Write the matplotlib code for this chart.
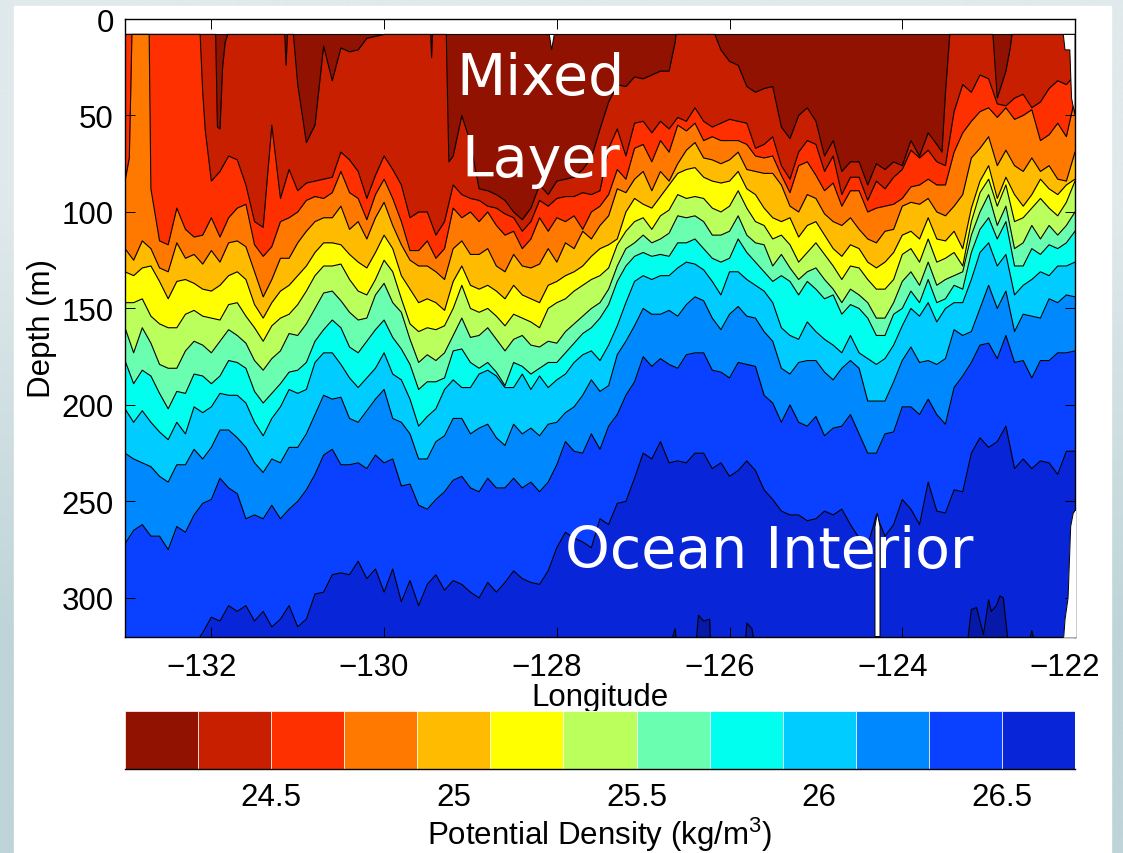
#!/usr/bin/env python3
"""Potential density section: depth of each isopycnal against longitude."""

import matplotlib
matplotlib.use("Agg")
import matplotlib.pyplot as plt
from matplotlib.transforms import ScaledTranslation
import numpy as np

LON = np.round(np.arange(111) * 0.1 - 133.0, 1)
TOP = 8
BOTTOM = 320

# depth (m) of each isopycnal at each LON
ISO_243 = [8,8,8,8,8,8,8,8,8,8,8,57,8,8,8,8,8,8,8,8,34,64,55,14,32,15,17,16,10,9,8,8,8,8,8,8,8,8,71,50,64,88,89,91,94,100,104,98,86,91,84,83,82,78,72,
           57,43,34,35,30,31,29,27,27,8,8,8,8,8,16,22,24,35,38,36,35,56,62,50,46,53,71,63,79,74,74,86,75,78,74,76,63,71,59,65,38,8,8,8,8,8,41,27,8,8,8,8,8,8,8,8]
ISO_245 = [8,8,8,8,8,8,8,8,8,38,84,79,71,73,86,105,108,55,93,78,89,85,84,83,82,69,73,79,93,81,71,78,86,103,100,100,112,105,86,91,93,94,97,98,101,103,110,105,94,97,93,92,92,90,91,
           89,67,57,71,54,53,59,53,57,51,53,46,53,56,54,52,53,54,67,65,61,76,83,69,63,65,79,71,91,82,82,94,84,88,82,78,68,72,68,74,76,48,34,38,29,31,44,45,41,39,46,43,36,32,34,29]
ISO_247 = [84,8,8,88,115,117,98,109,113,112,103,113,103,98,96,117,123,118,105,103,100,94,92,93,90,79,90,93,104,91,83,93,105,120,120,115,124,119,98,103,100,105,100,107,112,110,119,114,103,110,103,105,102,109,100,
           97,91,78,83,67,65,74,63,69,55,58,54,63,61,63,63,63,65,71,72,71,81,90,76,74,81,89,85,97,89,89,100,98,97,96,93,87,86,83,86,86,69,59,53,48,46,51,46,52,50,47,63,60,54,61,41]
ISO_249 = [119,125,115,119,129,131,116,124,122,127,120,126,116,115,118,131,144,135,124,124,116,110,105,103,103,97,109,105,114,103,95,107,117,125,128,128,131,135,119,115,122,122,119,128,131,122,128,129,127,119,126,116,119,110,114,
           107,102,88,90,83,79,89,79,84,75,68,64,72,73,75,73,69,78,79,80,80,86,97,100,91,93,101,105,107,103,109,114,116,110,109,97,95,96,93,100,102,97,91,72,67,61,76,68,76,79,72,79,76,83,84,69]
ISO_251 = [131,133,129,128,136,145,136,135,137,140,141,138,133,131,135,148,155,147,141,138,133,128,121,116,116,117,122,126,129,121,112,119,133,140,147,145,147,151,136,128,138,140,138,141,145,138,143,145,147,138,136,133,131,128,123,
           119,117,114,100,93,96,98,92,86,80,78,77,82,84,85,84,79,88,91,98,103,105,103,113,107,105,112,119,123,117,119,126,129,126,121,112,110,114,103,114,115,110,119,98,84,76,93,82,91,97,91,83,88,91,86,83]
ISO_253 = [147,147,145,154,158,160,160,153,151,154,155,156,148,147,154,160,167,159,155,153,148,141,133,128,128,127,135,141,143,135,125,131,145,158,162,160,161,159,150,138,150,152,150,154,159,153,155,157,160,150,147,145,141,138,135,
           133,129,117,110,105,103,109,102,99,91,93,92,93,98,100,97,89,98,105,107,114,112,117,126,121,116,122,128,135,128,129,135,140,140,135,122,119,126,114,126,124,121,128,105,90,83,97,86,105,103,98,93,98,102,95,84]
ISO_255 = [160,173,160,168,179,181,181,172,167,169,173,167,161,164,168,177,182,176,172,163,164,158,150,142,141,146,152,156,155,143,137,147,152,166,178,174,177,173,164,155,165,164,160,166,172,166,164,169,170,167,168,162,158,154,150,
           147,140,128,119,116,112,116,114,111,102,103,102,105,112,112,110,102,112,116,117,128,122,129,135,131,129,135,140,147,140,143,147,155,155,147,136,131,138,126,138,135,133,131,112,100,91,107,97,119,116,107,114,107,112,107,100]
ISO_257 = [177,189,182,185,194,202,193,194,184,185,189,185,177,178,181,193,199,194,189,183,182,178,167,161,156,160,170,173,167,161,156,165,171,179,192,188,188,186,172,171,178,181,178,183,190,178,180,184,181,178,178,173,168,163,160,
           155,148,136,128,123,121,123,122,123,116,116,114,119,124,126,124,114,121,126,131,136,133,136,143,136,140,145,143,153,148,150,155,164,164,153,150,141,147,135,147,145,138,140,121,109,103,114,105,128,128,119,122,117,119,116,110]
ISO_259 = [202,209,203,209,214,218,209,215,201,204,201,194,195,195,199,209,216,207,201,192,194,192,178,173,173,179,186,191,186,181,173,184,187,197,211,206,202,192,187,191,191,184,182,185,191,191,184,192,185,191,187,184,178,174,172,
           177,169,159,147,136,133,135,133,133,129,126,127,130,136,143,131,131,135,138,141,147,160,164,166,157,162,166,169,173,164,173,176,179,176,169,159,150,154,147,157,150,147,147,135,121,116,128,122,143,138,135,131,133,128,128,126]
ISO_261 = [225,228,230,232,237,240,231,231,223,228,222,213,213,217,222,230,235,228,230,222,222,215,205,195,197,196,207,209,203,197,192,207,209,215,228,228,219,216,207,207,215,212,210,217,221,210,215,212,216,210,209,204,201,195,187,
           193,190,174,167,159,150,153,153,151,154,148,144,146,155,161,153,149,154,155,162,167,181,184,178,177,177,183,187,181,177,181,198,198,198,188,177,170,178,177,179,176,161,164,162,150,138,150,141,162,153,154,155,145,147,143,144]
ISO_263 = [272,265,262,268,268,275,263,266,257,251,249,238,243,246,259,257,259,252,259,254,250,244,236,226,223,231,231,230,233,226,230,228,242,241,252,254,249,245,239,237,243,245,238,243,243,238,243,240,245,240,231,219,224,225,215,
           223,211,205,195,188,175,180,176,179,181,174,173,173,182,183,186,178,179,180,195,199,209,200,209,211,206,216,212,211,205,215,225,225,215,214,201,201,205,197,205,210,191,185,178,169,168,176,164,178,177,186,177,177,173,173,172]
ISO_265 = [325,325,325,325,325,325,325,325,325,318,310,312,304,307,304,312,307,315,311,304,315,311,298,297,288,287,288,281,290,285,297,285,302,291,304,293,288,296,291,293,297,300,292,297,292,286,290,292,293,286,274,266,269,271,274,
           259,262,251,250,238,225,228,219,230,229,230,225,225,233,230,237,234,229,234,244,249,255,257,257,260,259,255,257,254,262,269,273,257,268,262,249,254,262,240,255,256,244,245,225,217,222,219,211,233,228,233,229,230,236,224,224]
ISOPYCNALS = [ISO_243, ISO_245, ISO_247, ISO_249, ISO_251, ISO_253, ISO_255, ISO_257, ISO_259, ISO_261, ISO_263, ISO_265]

# extra readings between grid columns, where the shallow isopycnals drop steeply
STEEP_243_LON = [-131.95,-131.93,-131.87,-131.84,-131.81,-131.15,-131.135,-131.12,-131.05,-129.46,-129.45,-129.44,-129.28,-129.25,
                 -126.63,-126.62,-126.17,-123.54,-123.45,-122.95,-122.75,-122.73]
STEEP_243_DEPTH = [8,56,25,12,8,8,24,8,8,8,20,8,8,74,12,8,8,69,8,8,15,8]
STEEP_245_LON = [-132.13,-132.07]
STEEP_245_DEPTH = [8,58]
STEEP_247_LON = [-132.95,-132.93,-132.92,-132.72]
STEEP_247_DEPTH = [72,30,8,8]
STEEP = {0: (STEEP_243_LON, STEEP_243_DEPTH), 1: (STEEP_245_LON, STEEP_245_DEPTH), 2: (STEEP_247_LON, STEEP_247_DEPTH)}

# densest water, small patches on the bottom edge
DEEP_LON = [-126.69,-126.63,-126.61,-126.39,-126.36,-126.30,-126.23,-126.22,-125.82,-125.80,-125.74,-125.71,
            -123.25,-123.20,-123.14,-123.06,-123.00,-122.97,-122.91,-122.87,-122.83,-122.77,-122.54,-122.50,-122.46]
DEEP_DEPTH = [325,316,325,325,309,312,311,325,325,313,316,325,
              325,306,305,319,301,307,304,299,300,325,325,317,325]

# casts that stop early leave white gaps
SLIT_LON = [-124.316,-124.316,-124.289,-124.258,-124.258]
SLIT_DEPTH = [320,263,256,263,320]
EDGE_LON = [-122.13,-122.115,-122.08,-122.05,-122.02,-122.0]
EDGE_DEPTH = [320,311,300,263,256,255]
CORNER_LON = [-122.135,-122.116,-122.06,-122.04,-122.0,-122.0]
CORNER_DEPTH = [8,16,16,41,50,8]
NOTCH_LON = [-128.087,-128.06,-128.03]
NOTCH_DEPTH = [8,16,8]

LEVELS = np.round(np.arange(14) * 0.2 + 24.1, 1)
COLORS = ["#911200", "#c81f00", "#ff3000", "#ff7800", "#ffbb00", "#ffff00", "#baff5c",
          "#6affb0", "#00ffee", "#00ccff", "#0088ff", "#0a40ff", "#0825d8"]
DEEP_COLOR = "#0619a8"
LON_TICKS = [-132, -130, -128, -126, -124, -122]
DEPTH_TICKS = [0, 50, 100, 150, 200, 250, 300]
DENSITY_TICKS = [24.5, 25, 25.5, 26, 26.5]
DENSITY_LABELS = ["24.5", "25", "25.5", "26", "26.5"]


def with_steep(index, depth):
    if index not in STEEP:
        return LON, depth
    lon = np.concatenate([LON, STEEP[index][0]])
    values = np.concatenate([depth, STEEP[index][1]])
    order = np.argsort(lon)
    return lon[order], values[order]


plt.rcParams.update({"font.family": "Liberation Sans", "font.size": 22.5,
                     "mathtext.default": "regular", "axes.linewidth": 1.0})
W, H = 1123, 854
fig = plt.figure(figsize=(W / 100, H / 100), dpi=100)

# slide background behind a white panel
bg = fig.add_axes([0, 0, 1, 1], zorder=-2)
shade = np.array([[224, 233, 235], [190, 212, 216]]) / 255
bg.imshow(shade[:, None, :], aspect="auto", extent=[0, W, H, 0], interpolation="bilinear")
bg.fill([14, 1111, 1111, 14], [7, 7, H, H], color="white")
bg.set_xlim(0, W)
bg.set_ylim(H, 0)
bg.axis("off")

ax = fig.add_axes([125 / W, 1 - 637.5 / H, 950 / W, 617.5 / H])
ax.fill_between(LON, TOP, BOTTOM, color=COLORS[0], linewidth=0)
for i, (depth, color) in enumerate(zip(ISOPYCNALS, COLORS[1:])):
    lon, values = with_steep(i, depth)
    ax.fill_between(lon, values, BOTTOM, color=color, linewidth=0)
ax.fill_between(DEEP_LON, DEEP_DEPTH, BOTTOM, color=DEEP_COLOR, linewidth=0)
for i, depth in enumerate(ISOPYCNALS):
    lon, values = with_steep(i, depth)
    ax.plot(lon, values, color="black", lw=0.8)
ax.plot(DEEP_LON, DEEP_DEPTH, color="black", lw=0.8)
ax.plot([LON[0], LON[-1]], [TOP, TOP], color="black", lw=0.8)

for lon, depth in [(SLIT_LON, SLIT_DEPTH), (NOTCH_LON, NOTCH_DEPTH), (CORNER_LON, CORNER_DEPTH)]:
    ax.fill(lon, depth, facecolor="white", edgecolor="black", lw=0.7, zorder=3)
ax.fill_between(EDGE_LON, EDGE_DEPTH, BOTTOM, color="white", zorder=3)
ax.plot(EDGE_LON, EDGE_DEPTH, color="black", lw=0.7, zorder=3)

ax.set_xlim(-133, -122)
ax.set_ylim(BOTTOM, 0)
ax.set_xticks(LON_TICKS, [f"\u2212{abs(t)}" for t in LON_TICKS])
ax.set_yticks(DEPTH_TICKS)
ax.tick_params(direction="in", length=7.5, width=0.7, top=True, right=True)
ax.tick_params(axis="x", pad=11)
ax.tick_params(axis="y", pad=8)
# labels sit left of their ticks in the original
shift = ScaledTranslation(-10 / 100, 0, fig.dpi_scale_trans)
for tick_label in ax.get_xticklabels():
    tick_label.set_transform(tick_label.get_transform() + shift)
ax.set_xlabel("Longitude", labelpad=0)
ax.set_ylabel("Depth (m)", labelpad=3)

for label, lon, depth in [("Mixed", -128.19, 31), ("Layer", -128.19, 73.5), ("Ocean Interior", -125.54, 276)]:
    ax.text(lon, depth, label, color="white", fontsize=41, family="DejaVu Sans",
            ha="center", va="center", zorder=5)

cb = fig.add_axes([125 / W, 1 - 769.5 / H, 950 / W, 57.5 / H])
cb.bar(LEVELS[:-1], 1, width=0.2, align="edge", color=COLORS, edgecolor="white", linewidth=0.5)
cb.set_xlim(LEVELS[0], LEVELS[-1])
cb.set_ylim(0, 1)
cb.set_yticks([])
cb.set_xticks(DENSITY_TICKS, DENSITY_LABELS)
cb.tick_params(length=0, pad=10)
cb.spines[["left", "right", "top"]].set_visible(False)
cb.set_xlabel("Potential Density (kg/m$^3$)", labelpad=2)

fig.savefig("out.png", dpi=100)
